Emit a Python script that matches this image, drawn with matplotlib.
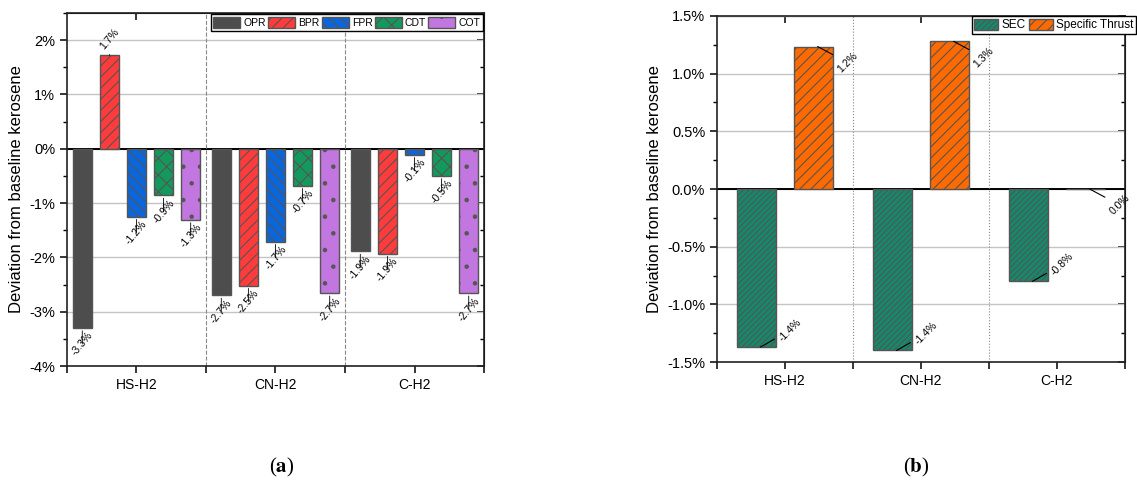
import numpy as np
import matplotlib.pyplot as plt
from matplotlib.ticker import MultipleLocator, FuncFormatter

plt.rcParams['font.family'] = ['Liberation Sans', 'DejaVu Sans']
plt.rcParams['hatch.linewidth'] = 0.8
plt.rcParams['mathtext.fontset'] = 'stix'

groups = ['HS-H2', 'CN-H2', 'C-H2']

# panel (a) values, % deviation from baseline kerosene
series_a = ['OPR', 'BPR', 'FPR', 'CDT', 'COT']
opr = [-3.30, -2.70, -1.89]
bpr = [1.72, -2.52, -1.93]
fpr = [-1.25, -1.71, -0.11]
cdt = [-0.86, -0.68, -0.50]
cot = [-1.31, -2.66, -2.66]

# panel (b) values
series_b = ['SEC', 'Specific Thrust']
sec = [-1.37, -1.40, -0.80]
thrust = [1.235, 1.28, 0.0]


def style_axis(ax, sep_ls):
    x = np.arange(len(groups))
    ax.set_xlim(-0.5, len(groups) - 0.5)
    ax.set_xticks(x)
    ax.set_xticklabels(groups, fontsize=10)
    ax.set_xticks(np.arange(-0.5, len(groups), 1.0), minor=True)
    ax.tick_params(axis='x', which='major', direction='out', length=5, width=1.1)
    ax.tick_params(axis='x', which='minor', direction='out', length=5, width=1.1)
    ax.tick_params(axis='y', which='major', direction='out', length=5, width=1.1, labelsize=10.5)
    ax.tick_params(axis='y', which='minor', direction='out', length=3, width=1.0)
    for s in ax.spines.values():
        s.set_linewidth(1.2)
        s.set_color('#222222')
    ax.set_axisbelow(True)
    ax.yaxis.grid(True, color='#c4c4c4', lw=1.0)
    ax.axhline(0, color='black', lw=1.4, zorder=1)
    for b in np.arange(0.5, len(groups) - 0.5, 1.0):
        ax.axvline(b, ls=sep_ls, color='#888888', lw=0.8, zorder=1)
    ax.set_ylabel('Deviation from baseline kerosene', fontsize=12)
    # inward ticks on the top and right sides
    top = ax.secondary_xaxis('top')
    top.set_xticks(x)
    top.tick_params(direction='in', length=5, width=1.1, labeltop=False)
    right = ax.secondary_yaxis('right')
    right.yaxis.set_major_locator(ax.yaxis.get_major_locator())
    right.yaxis.set_minor_locator(ax.yaxis.get_minor_locator())
    right.tick_params(which='major', direction='in', length=5, width=1.1, labelright=False)
    right.tick_params(which='minor', direction='in', length=3, width=1.0)


fig = plt.figure(figsize=(11.37, 4.84), dpi=100)

# ---------------- panel (a)
ax1 = fig.add_axes([0.0589, 0.2438, 0.3668, 0.7293])
ax1.set_ylim(-4, 2.5)
ax1.yaxis.set_major_locator(MultipleLocator(1))
ax1.yaxis.set_minor_locator(MultipleLocator(0.5))
ax1.yaxis.set_major_formatter(FuncFormatter(lambda v, p: '%d%%' % round(v)))
style_axis(ax1, '--')

vals_a = [opr, bpr, fpr, cdt, cot]
colors_a = ['#4d4d4d', '#ff3b3b', '#0a66dc', '#14995c', '#c276e0']
hatches_a = [None, '///', '\\\\\\', 'xx', '.']
offs_a = [-0.39, -0.195, 0.0, 0.195, 0.39]
x = np.arange(len(groups))
for name, v, c, h, o in zip(series_a, vals_a, colors_a, hatches_a, offs_a):
    bars = ax1.bar(x + o, v, width=0.133, color=c, edgecolor='#555555',
                   lw=1.0, hatch=h, label=name, zorder=2)
    for xi, vi in zip(x + o, v):
        dy = 16 if vi > 0 else -16
        ax1.annotate('%.1f%%' % vi, xy=(xi, vi), xytext=(0, dy),
                     textcoords='offset pixels', ha='center', va='center',
                     rotation=50, fontsize=7.5,
                     arrowprops=dict(arrowstyle='-', lw=0.6, color='black',
                                     shrinkA=0, shrinkB=2))

ax1.legend(loc='upper right', bbox_to_anchor=(1.0, 1.0), ncol=5, fontsize=7.5,
           frameon=True, fancybox=False, edgecolor='black', framealpha=1,
           borderpad=0.25, borderaxespad=0.1, handlelength=2.6, handleheight=1.3,
           handletextpad=0.3, columnspacing=0.2)

# ---------------- panel (b)
ax2 = fig.add_axes([0.6306, 0.252, 0.3588, 0.715])
ax2.set_ylim(-1.5, 1.5)
ax2.yaxis.set_major_locator(MultipleLocator(0.5))
ax2.yaxis.set_minor_locator(MultipleLocator(0.25))
ax2.yaxis.set_major_formatter(FuncFormatter(lambda v, p: '%.1f%%' % v))
style_axis(ax2, ':')

vals_b = [sec, thrust]
colors_b = ['#138a6b', '#ff6a00']
hatches_b = ['//////', '///']
offs_b = [-0.21, 0.21]
for name, v, c, h, o in zip(series_b, vals_b, colors_b, hatches_b, offs_b):
    ax2.bar(x + o, v, width=0.287, color=c, edgecolor='#555555',
            lw=1.0, hatch=h, label=name, zorder=2)
    for xi, vi in zip(x + o, v):
        dy = 17 if vi < 0 else -16
        ax2.annotate('%.1f%%' % vi, xy=(xi + 0.03, vi), xytext=(30, dy),
                     textcoords='offset pixels', ha='center', va='center',
                     rotation=45, fontsize=7.5,
                     arrowprops=dict(arrowstyle='-', lw=0.8, color='black',
                                     shrinkA=0, shrinkB=0))

fig.legend(*ax2.get_legend_handles_labels(), loc='upper left',
           bbox_to_anchor=(0.855, 0.966), ncol=2, fontsize=8.5,
           frameon=True, fancybox=False, edgecolor='black', framealpha=1,
           borderpad=0.2, borderaxespad=0.0, handlelength=2.0, handleheight=1.1,
           handletextpad=0.3, columnspacing=0.3)

# captions
fig.text(282 / 1137, 1 - 467 / 484, r'($\mathbf{a}$)', ha='center', va='center',
         fontsize=15, family='Liberation Serif')
fig.text(916 / 1137, 1 - 467 / 484, r'($\mathbf{b}$)', ha='center', va='center',
         fontsize=15, family='Liberation Serif')

fig.savefig('out.png', dpi=100)
